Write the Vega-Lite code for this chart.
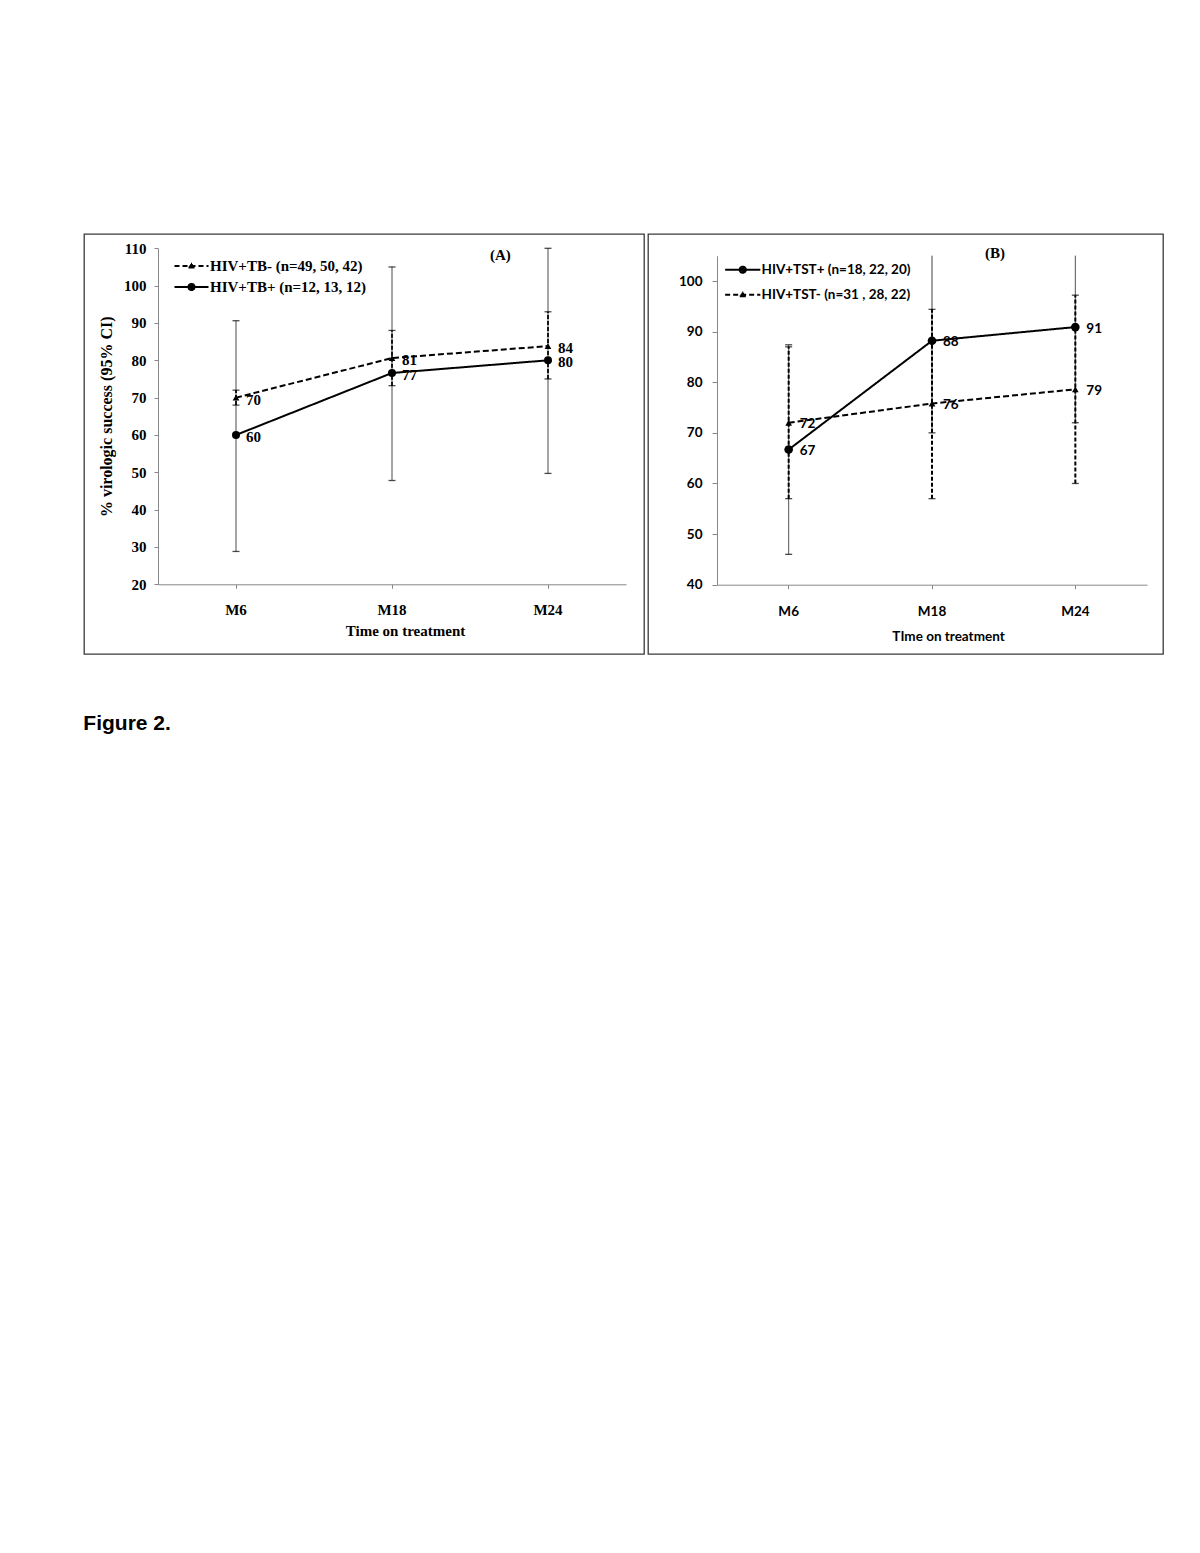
{
  "$schema": "https://vega.github.io/schema/vega-lite/v6.json",
  "background": "white",
  "padding": {"left": 83, "top": 233, "right": 0, "bottom": 0},
  "title": {"text": "Figure 2.", "orient": "bottom", "anchor": "start", "offset": 58, "font": "Liberation Sans", "fontSize": 21, "fontWeight": "bold", "color": "black"},
  "config": {
    "view": {"stroke": "#3a3a3a", "strokeWidth": 1.3},
    "axis": {"grid": false}
  },
  "resolve": {
    "scale": {"shape": "independent", "strokeDash": "independent"},
    "legend": {"shape": "independent", "strokeDash": "independent"}
  },
  "spacing": 2,
  "hconcat": [
    {
      "width": 560,
      "height": 420,
      "title": {"text": "(A)", "anchor": "start", "orient": "top", "offset": 0, "baseline": "alphabetic", "dx": 406, "dy": 41, "font": "Liberation Serif", "fontSize": 15, "fontWeight": "bold", "color": "black"},
      "data": {"values": [
        {"time": "M6", "series": "HIV+TB- (n=49, 50, 42)", "value": 70, "lo": 68, "hi": 72},
        {"time": "M18", "series": "HIV+TB- (n=49, 50, 42)", "value": 80.6, "lo": 73.2, "hi": 88},
        {"time": "M24", "series": "HIV+TB- (n=49, 50, 42)", "value": 83.8, "lo": 75, "hi": 93},
        {"time": "M6", "series": "HIV+TB+ (n=12, 13, 12)", "value": 60, "lo": 28.8, "hi": 90.6},
        {"time": "M18", "series": "HIV+TB+ (n=12, 13, 12)", "value": 76.6, "lo": 47.8, "hi": 105},
        {"time": "M24", "series": "HIV+TB+ (n=12, 13, 12)", "value": 80, "lo": 49.7, "hi": 110}
      ]},
      "encoding": {
        "x": {"field": "time", "type": "nominal", "sort": ["M6", "M18", "M24"],
          "scale": {"type": "band", "range": [74, 542], "paddingInner": 0, "paddingOuter": 0},
          "axis": {"title": "Time on treatment", "offset": -69.7, "labelAngle": 0, "domainColor": "#888888", "tickColor": "#888888", "tickSize": 4,
            "labelFont": "Liberation Serif", "labelFontWeight": "bold", "labelFontSize": 15, "labelColor": "black", "labelPadding": 14,
            "titleFont": "Liberation Serif", "titleFontWeight": "bold", "titleFontSize": 15, "titleColor": "black", "titlePadding": 6, "titleX": 321}},
        "y": {"field": "value", "type": "quantitative",
          "scale": {"domain": [20, 110], "range": [350.3, 14.3], "nice": false, "zero": false},
          "axis": {"title": "% virologic success (95% CI)", "values": [20, 30, 40, 50, 60, 70, 80, 90, 100, 110], "offset": -74, "domainColor": "#888888", "tickColor": "#888888", "tickSize": 4,
            "labelFont": "Liberation Serif", "labelFontWeight": "bold", "labelFontSize": 15, "labelColor": "black", "labelPadding": 8,
            "titleFont": "Liberation Serif", "titleFontWeight": "bold", "titleFontSize": 16, "titleColor": "black", "titlePadding": 9}}
      },
      "layer": [
        {
          "mark": {"type": "rule"},
          "encoding": {
            "y": {"field": "lo", "type": "quantitative", "title": "% virologic success (95% CI)"},
            "y2": {"field": "hi"},
            "color": {"condition": {"test": "datum.series === 'HIV+TB- (n=49, 50, 42)'", "value": "black"}, "value": "#333333"},
            "strokeWidth": {"condition": {"test": "datum.series === 'HIV+TB- (n=49, 50, 42)'", "value": 2}, "value": 1},
            "strokeDash": {"condition": {"test": "datum.series === 'HIV+TB- (n=49, 50, 42)'", "value": [4, 2]}, "value": [1, 0]}
          }
        },
        {
          "mark": {"type": "tick", "thickness": 1.3, "size": 7, "color": "black"},
          "encoding": {"y": {"field": "lo", "type": "quantitative", "title": "% virologic success (95% CI)"}}
        },
        {
          "transform": [{"filter": "datum.hi <= 110"}],
          "mark": {"type": "tick", "thickness": 1.3, "size": 7, "color": "black"},
          "encoding": {"y": {"field": "hi", "type": "quantitative", "title": "% virologic success (95% CI)"}}
        },
        {
          "mark": {"type": "line", "color": "black", "strokeWidth": 2},
          "encoding": {
            "detail": {"field": "series", "type": "nominal"},
            "strokeDash": {"condition": {"test": "datum.series === 'HIV+TB- (n=49, 50, 42)'", "value": [6, 3]}, "value": [1, 0]}
          }
        },
        {
          "mark": {"type": "point", "filled": true, "color": "black", "opacity": 1},
          "encoding": {
            "shape": {"condition": {"test": "datum.series === 'HIV+TB- (n=49, 50, 42)'", "value": "triangle-up"}, "value": "circle"},
            "size": {"condition": {"test": "datum.series === 'HIV+TB- (n=49, 50, 42)'", "value": 45}, "value": 64}
          }
        },
        {
          "mark": {"type": "text", "align": "left", "baseline": "middle", "dx": 10, "dy": 2, "font": "Liberation Serif", "fontSize": 15, "fontWeight": "bold", "color": "black"},
          "encoding": {"text": {"field": "value", "type": "quantitative", "format": ".0f"}}
        },
        {
          "mark": {"type": "point", "filled": false, "color": "black", "strokeWidth": 1.8, "opacity": 0},
          "encoding": {
            "shape": {"field": "series", "type": "nominal",
              "scale": {"domain": ["HIV+TB- (n=49, 50, 42)", "HIV+TB+ (n=12, 13, 12)"], "range": [
                "M-4.25,0H4.25M0,-0.6H0.13M0,-0.6H-0.13M0,-0.275H0.34M0,-0.275H-0.34M0,0.05H0.55M0,0.05H-0.55M0,0.375H0.755M0,0.375H-0.755",
                "M-4.25,0H4.25M0.8,0A0.8,0.8 0 1,1 -0.8,0A0.8,0.8 0 1,1 0.8,0M0.35,0A0.35,0.35 0 1,1 -0.35,0A0.35,0.35 0 1,1 0.35,0M0.08,0A0.08,0.08 0 1,1 -0.08,0A0.08,0.08 0 1,1 0.08,0"]},
              "legend": {"title": null, "orient": "none", "legendX": 100, "legendY": 24.5, "padding": 0, "symbolSize": 64, "labelOffset": 11, "rowPadding": 5,
                "labelFont": "Liberation Serif", "labelFontWeight": "bold", "labelFontSize": 15, "labelColor": "black", "labelLimit": 400,
                "symbolStrokeColor": "black", "symbolStrokeWidth": 1.8, "symbolOpacity": 1}},
            "strokeDash": {"field": "series", "type": "nominal",
              "scale": {"domain": ["HIV+TB- (n=49, 50, 42)", "HIV+TB+ (n=12, 13, 12)"], "range": [[5, 3], [1, 0]]},
              "legend": {"title": null, "orient": "none", "legendX": 100, "legendY": 24.5, "padding": 0, "symbolSize": 64, "labelOffset": 11, "rowPadding": 5,
                "labelFont": "Liberation Serif", "labelFontWeight": "bold", "labelFontSize": 15, "labelColor": "black", "labelLimit": 400,
                "symbolStrokeColor": "black", "symbolStrokeWidth": 1.8, "symbolOpacity": 1}}
          }
        }
      ]
    },
    {
      "width": 515,
      "height": 420,
      "title": {"text": "(B)", "anchor": "start", "orient": "top", "offset": 0, "baseline": "alphabetic", "dx": 337, "dy": 39, "font": "Liberation Serif", "fontSize": 15, "fontWeight": "bold", "color": "black"},
      "data": {"values": [
        {"time": "M6", "series": "HIV+TST+ (n=18, 22, 20)", "value": 66.7, "lo": 46, "hi": 87.4},
        {"time": "M18", "series": "HIV+TST+ (n=18, 22, 20)", "value": 88.2, "lo": 70, "hi": 106},
        {"time": "M24", "series": "HIV+TST+ (n=18, 22, 20)", "value": 90.9, "lo": 72, "hi": 110},
        {"time": "M6", "series": "HIV+TST- (n=31 , 28, 22)", "value": 72, "lo": 57, "hi": 87},
        {"time": "M18", "series": "HIV+TST- (n=31 , 28, 22)", "value": 75.8, "lo": 57, "hi": 94.4},
        {"time": "M24", "series": "HIV+TST- (n=31 , 28, 22)", "value": 78.6, "lo": 60, "hi": 97.2}
      ]},
      "encoding": {
        "x": {"field": "time", "type": "nominal", "sort": ["M6", "M18", "M24"],
          "scale": {"type": "band", "range": [69, 499], "paddingInner": 0, "paddingOuter": 0},
          "axis": {"title": "TIme on treatment", "offset": -69.3, "labelAngle": 0, "domainColor": "#888888", "tickColor": "#888888", "tickSize": 4,
            "labelFont": "Lato", "labelFontWeight": "bold", "labelFontSize": 13.5, "labelColor": "black", "labelPadding": 16,
            "titleFont": "Lato", "titleFontWeight": "bold", "titleFontSize": 13.5, "titleColor": "black", "titlePadding": 11, "titleX": 300}},
        "y": {"field": "value", "type": "quantitative",
          "scale": {"domain": [40, 105], "range": [350.7, 21.7], "nice": false, "zero": false, "clamp": true},
          "axis": {"title": null, "values": [40, 50, 60, 70, 80, 90, 100], "offset": -69, "domainColor": "#888888", "tickColor": "#888888", "tickSize": 5,
            "labelFont": "Lato", "labelFontWeight": "bold", "labelFontSize": 13.5, "labelColor": "black", "labelPadding": 10}}
      },
      "layer": [
        {
          "mark": {"type": "rule"},
          "encoding": {
            "y": {"field": "lo", "type": "quantitative", "title": null},
            "y2": {"field": "hi"},
            "color": {"condition": {"test": "datum.series === 'HIV+TST- (n=31 , 28, 22)'", "value": "black"}, "value": "#333333"},
            "strokeWidth": {"condition": {"test": "datum.series === 'HIV+TST- (n=31 , 28, 22)'", "value": 2}, "value": 1},
            "strokeDash": {"condition": {"test": "datum.series === 'HIV+TST- (n=31 , 28, 22)'", "value": [4, 2]}, "value": [1, 0]}
          }
        },
        {
          "mark": {"type": "tick", "thickness": 1.3, "size": 7, "color": "black"},
          "encoding": {"y": {"field": "lo", "type": "quantitative", "title": null}}
        },
        {
          "transform": [{"filter": "datum.hi <= 105"}],
          "mark": {"type": "tick", "thickness": 1.3, "size": 7, "color": "black"},
          "encoding": {"y": {"field": "hi", "type": "quantitative", "title": null}}
        },
        {
          "mark": {"type": "line", "color": "black", "strokeWidth": 2},
          "encoding": {
            "detail": {"field": "series", "type": "nominal"},
            "strokeDash": {"condition": {"test": "datum.series === 'HIV+TST- (n=31 , 28, 22)'", "value": [6, 3]}, "value": [1, 0]}
          }
        },
        {
          "mark": {"type": "point", "filled": true, "color": "black", "opacity": 1},
          "encoding": {
            "shape": {"condition": {"test": "datum.series === 'HIV+TST- (n=31 , 28, 22)'", "value": "triangle-up"}, "value": "circle"},
            "size": {"condition": {"test": "datum.series === 'HIV+TST- (n=31 , 28, 22)'", "value": 45}, "value": 75}
          }
        },
        {
          "mark": {"type": "text", "align": "left", "baseline": "middle", "dx": 11, "dy": 1.5, "font": "Lato", "fontSize": 13.5, "fontWeight": "bold", "color": "black"},
          "encoding": {"text": {"field": "value", "type": "quantitative", "format": ".0f"}}
        },
        {
          "mark": {"type": "point", "filled": false, "color": "black", "strokeWidth": 1.8, "opacity": 0},
          "encoding": {
            "shape": {"field": "series", "type": "nominal",
              "scale": {"domain": ["HIV+TST+ (n=18, 22, 20)", "HIV+TST- (n=31 , 28, 22)"], "range": [
                "M-4.4,0H4.4M0.8,0A0.8,0.8 0 1,1 -0.8,0A0.8,0.8 0 1,1 0.8,0M0.35,0A0.35,0.35 0 1,1 -0.35,0A0.35,0.35 0 1,1 0.35,0M0.08,0A0.08,0.08 0 1,1 -0.08,0A0.08,0.08 0 1,1 0.08,0",
                "M-4.4,0H4.4M0,-0.6H0.13M0,-0.6H-0.13M0,-0.275H0.34M0,-0.275H-0.34M0,0.05H0.55M0,0.05H-0.55M0,0.375H0.755M0,0.375H-0.755"]},
              "legend": {"title": null, "orient": "none", "legendX": 88, "legendY": 29, "padding": 0, "symbolSize": 64, "labelOffset": 12, "rowPadding": 10,
                "labelFont": "Lato", "labelFontWeight": "bold", "labelFontSize": 13.5, "labelColor": "black", "labelLimit": 400,
                "symbolStrokeColor": "black", "symbolStrokeWidth": 1.8, "symbolOpacity": 1}},
            "strokeDash": {"field": "series", "type": "nominal",
              "scale": {"domain": ["HIV+TST+ (n=18, 22, 20)", "HIV+TST- (n=31 , 28, 22)"], "range": [[1, 0], [5, 3]]},
              "legend": {"title": null, "orient": "none", "legendX": 88, "legendY": 29, "padding": 0, "symbolSize": 64, "labelOffset": 12, "rowPadding": 10,
                "labelFont": "Lato", "labelFontWeight": "bold", "labelFontSize": 13.5, "labelColor": "black", "labelLimit": 400,
                "symbolStrokeColor": "black", "symbolStrokeWidth": 1.8, "symbolOpacity": 1}}
          }
        }
      ]
    }
  ]
}
